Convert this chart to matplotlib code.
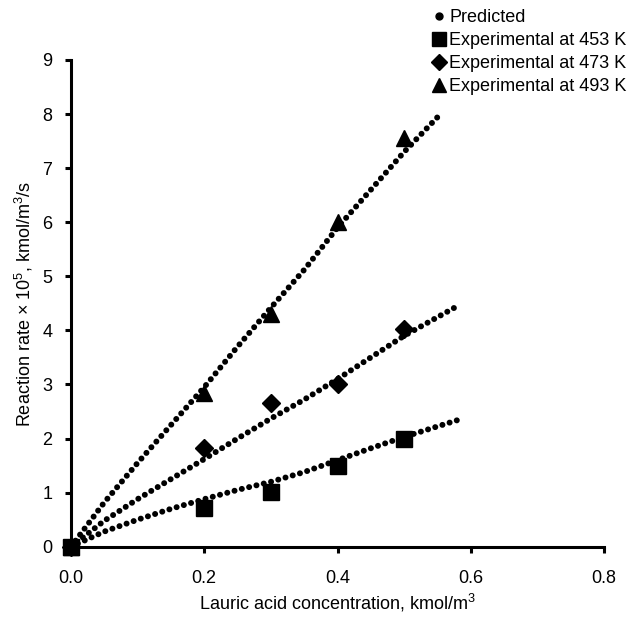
import matplotlib
matplotlib.use("Agg")
import matplotlib.pyplot as plt
from matplotlib.lines import Line2D

plt.rcParams['font.family'] = ['Liberation Sans', 'DejaVu Sans']
plt.rcParams['mathtext.fontset'] = 'custom'
plt.rcParams['mathtext.rm'] = 'Liberation Sans'

# Predicted curves
pred_x_453 = [0, 0.05, 0.1, 0.15, 0.2, 0.25, 0.3, 0.35, 0.4, 0.45, 0.5, 0.58]
pred_y_453 = [0, 0.28, 0.50, 0.70, 0.88, 1.05, 1.20, 1.38, 1.60, 1.82, 2.03, 2.34]
pred_x_473 = [0, 0.05, 0.1, 0.15, 0.2, 0.25, 0.3, 0.35, 0.4, 0.45, 0.5, 0.58]
pred_y_473 = [0, 0.48, 0.88, 1.25, 1.62, 2.00, 2.37, 2.72, 3.10, 3.50, 3.90, 4.45]
pred_x_493 = [0, 0.05, 0.1, 0.15, 0.2, 0.25, 0.3, 0.35, 0.4, 0.45, 0.5, 0.553]
pred_y_493 = [0, 0.82, 1.55, 2.25, 2.95, 3.70, 4.42, 5.12, 5.90, 6.60, 7.30, 7.98]

# Experimental data
exp_x = [0.0, 0.2, 0.3, 0.4, 0.5]
exp_453 = [0.0, 0.72, 1.02, 1.50, 2.00]
exp_473 = [0.0, 1.83, 2.65, 3.00, 4.02]
exp_493 = [0.0, 2.85, 4.30, 6.00, 7.55]

xticks = [0.0, 0.2, 0.4, 0.6, 0.8]
xticklabels = ['0.0', '0.2', '0.4', '0.6', '0.8']
yticks = list(range(0, 10))

fig = plt.figure(figsize=(6.37, 6.17), dpi=100)
ax = fig.add_axes([71/637, 1-546.7/617, (604-71)/637, (546.7-60)/617])

dot_style = dict(color='black', lw=4.3, linestyle=(0, (0.01, 1.25)),
                 dash_capstyle='round', solid_capstyle='round')
ax.plot(pred_x_453, pred_y_453, **dot_style)
ax.plot(pred_x_473, pred_y_473, **dot_style)
ax.plot(pred_x_493, pred_y_493, **dot_style)

ax.plot(exp_x, exp_453, 's', color='black', ms=11, ls='none', clip_on=False, zorder=5)
ax.plot(exp_x, exp_473, 'D', color='black', ms=9.5, ls='none', clip_on=False, zorder=5)
ax.plot(exp_x, exp_493, '^', color='black', ms=11, ls='none', clip_on=False, zorder=5)

ax.set_xlim(0, 0.8)
ax.set_ylim(0, 9)
ax.set_xticks(xticks)
ax.set_xticklabels(xticklabels)
ax.set_yticks(yticks)

for s in ['top', 'right']:
    ax.spines[s].set_visible(False)
for s in ['left', 'bottom']:
    ax.spines[s].set_linewidth(2.2)
ax.tick_params(axis='both', direction='out', length=4.5, width=2.2,
               labelsize=13, colors='black')
ax.tick_params(axis='y', pad=9)
ax.tick_params(axis='x', pad=12)

ax.set_xlabel('Lauric acid concentration, kmol/m$^3$', fontsize=13, labelpad=4)
ax.set_ylabel('Reaction rate × 10$^5$, kmol/m$^3$/s', fontsize=13, labelpad=5)

h_pred = Line2D([], [], marker='o', color='black', ms=5, ls='none')
h453 = Line2D([], [], marker='s', color='black', ms=10, ls='none')
h473 = Line2D([], [], marker='D', color='black', ms=8, ls='none')
h493 = Line2D([], [], marker='^', color='black', ms=10, ls='none')
fig.legend([h_pred, h453, h473, h493],
           ['Predicted', 'Experimental at 453 K', 'Experimental at 473 K',
            'Experimental at 493 K'],
           loc='upper left', bbox_to_anchor=(433/637, 1-9/617),
           frameon=False, fontsize=13, handlelength=0.7, handletextpad=0.2,
           labelspacing=0.33, borderpad=0, borderaxespad=0)

fig.savefig('out.png', dpi=100)
